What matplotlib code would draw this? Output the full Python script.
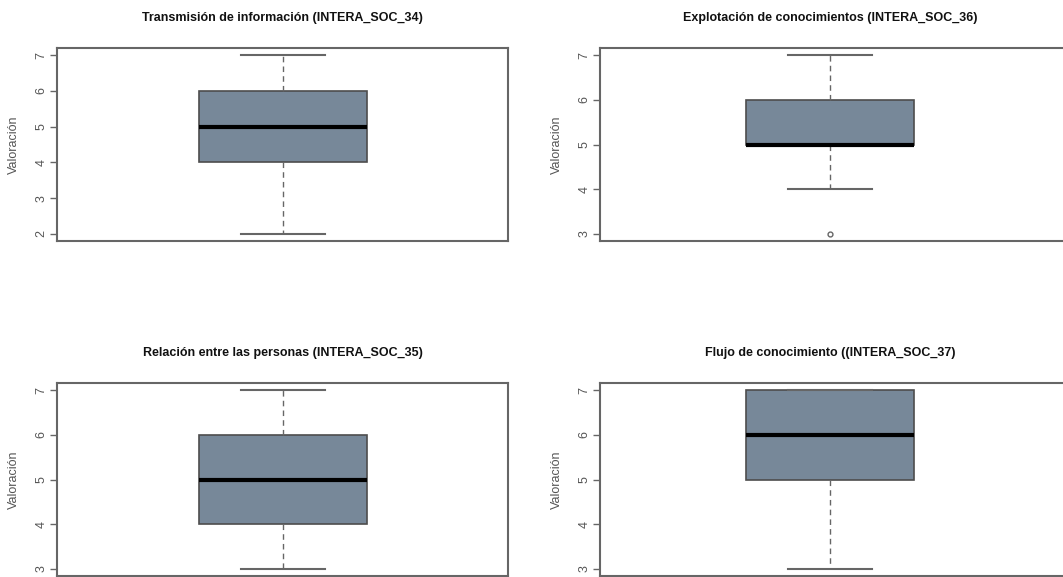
import matplotlib.pyplot as plt

plt.rcParams['font.family'] = ['Liberation Sans', 'DejaVu Sans']

titulos = ['Transmisión de información (INTERA_SOC_34)',
           'Explotación de conocimientos (INTERA_SOC_36)',
           'Relación entre las personas (INTERA_SOC_35)',
           'Flujo de conocimiento ((INTERA_SOC_37)']
minimo = [2, 4, 3, 3]
q1 = [4, 5, 4, 5]
mediana = [5, 5, 5, 6]
q3 = [6, 6, 6, 7]
maximo = [7, 7, 7, 7]
atipicos = [[], [3], [], []]
ylims = [(1.8, 7.2), (2.84, 7.16), (2.84, 7.16), (2.84, 7.16)]

W, H = 1063, 577
fig = plt.figure(figsize=(W / 100, H / 100), dpi=100)

# panel rectangles in pixels: left, top, right, bottom ; x position of the box centre
paneles = [(57, 48, 508, 241, 282.5), (600, 48, 1066, 241, 830),
           (57, 383, 508, 576, 282.5), (600, 383, 1066, 576, 830)]
gris = '#666666'

for i, (x0, y0, x1, y1, xc) in enumerate(paneles):
    ax = fig.add_axes([x0 / W, 1 - y1 / H, (x1 - x0) / W, (y1 - y0) / H])
    stats = [dict(med=mediana[i], q1=q1[i], q3=q3[i], whislo=minimo[i],
                  whishi=maximo[i], fliers=atipicos[i])]
    ax.bxp(stats, positions=[1], widths=0.4, patch_artist=True,
           boxprops=dict(facecolor='#778899', edgecolor='#4d4d4d', linewidth=1.2),
           medianprops=dict(color='black', linewidth=3, solid_capstyle='butt'),
           whiskerprops=dict(color=gris, linestyle=(0, (4, 3)), linewidth=1),
           capprops=dict(color=gris, linewidth=1.5),
           capwidths=0.2,
           flierprops=dict(marker='o', markersize=3.5, markerfacecolor='none',
                           markeredgecolor=gris, markeredgewidth=1))
    # 420 px per data unit, box centred at x = 1
    ppu = 420
    ax.set_xlim(1 - (xc - x0) / ppu, 1 + (x1 - xc) / ppu)
    ax.set_ylim(*ylims[i])
    lo, hi = ylims[i]
    ax.set_yticks(range(int(round(lo + 0.2)), int(round(hi - 0.2)) + 1))
    ax.set_xticks([])
    for lbl in ax.get_yticklabels():
        lbl.set_rotation(90)
        lbl.set_va('center')
    ax.tick_params(axis='y', direction='out', length=5, width=1, color=gris,
                   labelcolor='#555555', labelsize=9, pad=2)
    for s in ax.spines.values():
        s.set_color(gris)
        s.set_linewidth(1.5)
    ax.set_ylabel('Valoración', color='#555555', fontsize=9, labelpad=11)
    fig.text((x0 + xc + (xc - x0)) / 2 / W, 1 - (y0 - 30) / H, titulos[i],
             ha='center', va='center', fontsize=9, fontweight='bold', color='#111111')

fig.savefig('out.png', dpi=100)
